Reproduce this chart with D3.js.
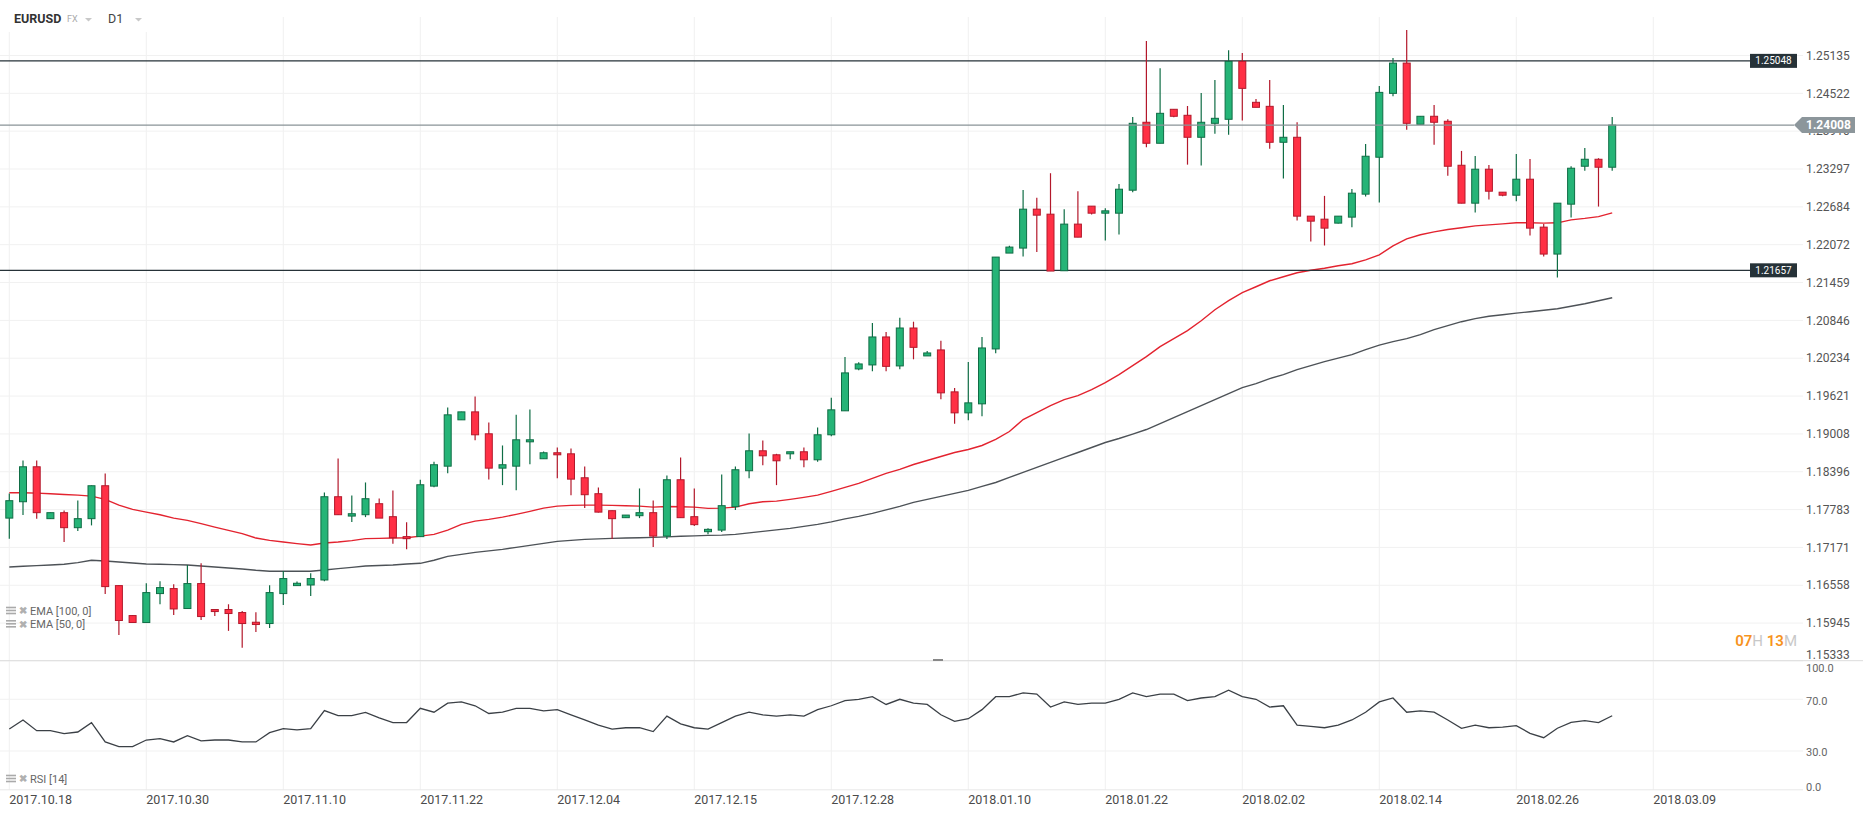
<!DOCTYPE html>
<html><head><meta charset="utf-8">
<script src="https://cdn.jsdelivr.net/npm/d3@7"></script>
<style>body{margin:0;background:#fff;} svg{display:block;font-family:Roboto, "Noto Sans", sans-serif;}</style>
</head><body><svg id="c" width="1866" height="817"></svg>
<script>
const dateLabels = ["2017.10.18","2017.10.30","2017.11.10","2017.11.22","2017.12.04","2017.12.15","2017.12.28","2018.01.10","2018.01.22","2018.02.02","2018.02.14","2018.02.26","2018.03.09"];
const openP = [1.17645,1.17910,1.18476,1.17636,1.17733,1.17490,1.17636,1.18169,1.16552,1.16067,
1.15954,1.16423,1.16504,1.16181,1.16585,1.16165,1.16165,1.16116,1.15959,1.15938,
1.16423,1.16552,1.16562,1.16643,1.17991,1.17678,1.17700,1.17878,1.17668,1.17345,
1.17345,1.18163,1.18486,1.19236,1.19365,1.19010,1.18454,1.18486,1.18880,1.18606,
1.18703,1.18686,1.18298,1.18040,1.17765,1.17652,1.17684,1.17733,1.17354,1.18266,
1.17668,1.17425,1.17451,1.17830,1.18412,1.18735,1.18670,1.18686,1.18719,1.18589,
1.18994,1.19382,1.20060,1.20125,1.20578,1.20109,1.20723,1.20271,1.20368,1.19689,
1.19349,1.19495,1.20384,1.21936,1.22017,1.22647,1.22566,1.21650,1.22405,1.22696,
1.22582,1.22582,1.22954,1.24054,1.23714,1.24264,1.24167,1.23811,1.24037,1.24102,
1.25040,1.24377,1.24312,1.23730,1.23811,1.22534,1.22485,1.22421,1.22518,1.22890,
1.23488,1.24522,1.25012,1.24021,1.24151,1.24070,1.23358,1.22744,1.23294,1.22922,
1.22873,1.23132,1.22356,1.21920,1.22728,1.23342,1.23455,1.23326];
const highP = [1.18045,1.18578,1.18578,1.17737,1.17770,1.17931,1.18174,1.18368,1.16557,1.16072,
1.16590,1.16622,1.16574,1.16885,1.16913,1.16169,1.16250,1.16142,1.16121,1.16557,
1.16789,1.16617,1.16751,1.18061,1.18610,1.18012,1.18222,1.17964,1.18093,1.17576,
1.18266,1.18557,1.19435,1.19365,1.19613,1.19192,1.18821,1.19317,1.19403,1.18724,
1.18788,1.18772,1.18481,1.18142,1.17770,1.17694,1.18125,1.17931,1.18336,1.18627,
1.18125,1.17479,1.18352,1.18481,1.19015,1.18901,1.18686,1.18719,1.18788,1.19112,
1.19592,1.20255,1.20167,1.20804,1.20659,1.20890,1.20825,1.20351,1.20518,1.19753,
1.20174,1.20578,1.21871,1.22054,1.22959,1.22830,1.23229,1.22647,1.22938,1.22696,
1.22663,1.23056,1.24139,1.25368,1.24927,1.24264,1.24317,1.24527,1.24737,1.25222,
1.25174,1.24430,1.24737,1.24333,1.24054,1.22534,1.22862,1.22534,1.22975,1.23703,
1.24640,1.25093,1.25546,1.24151,1.24333,1.24102,1.23590,1.23509,1.23363,1.22922,
1.23541,1.23460,1.22405,1.22744,1.23342,1.23638,1.23472,1.24139];
const lowP = [1.17312,1.17694,1.17636,1.17632,1.17257,1.17435,1.17527,1.16417,1.15754,1.15951,
1.15951,1.16250,1.16077,1.16177,1.15996,1.16061,1.15819,1.15544,1.15802,1.15867,
1.16239,1.16549,1.16384,1.16622,1.17697,1.17581,1.17661,1.17645,1.17231,1.17139,
1.17341,1.18146,1.18373,1.19236,1.18906,1.18271,1.18179,1.18098,1.18518,1.18606,
1.18292,1.18017,1.17807,1.17737,1.17306,1.17652,1.17645,1.17177,1.17306,1.17649,
1.17516,1.17382,1.17419,1.17775,1.18292,1.18502,1.18179,1.18599,1.18470,1.18557,
1.18971,1.19382,1.20038,1.20022,1.20022,1.20054,1.20216,1.20271,1.19569,1.19171,
1.19230,1.19294,1.20313,1.21936,1.21881,1.21952,1.21645,1.21650,1.22194,1.22560,
1.22139,1.22236,1.22922,1.23649,1.23714,1.24134,1.23368,1.23352,1.23869,1.23853,
1.24083,1.24296,1.23627,1.23142,1.22463,1.22123,1.22059,1.22414,1.22356,1.22851,
1.22754,1.24474,1.23934,1.24021,1.23691,1.23190,1.22741,1.22592,1.22802,1.22857,
1.22776,1.22220,1.21881,1.21541,1.22511,1.23271,1.22689,1.23271];
const closeP = [1.17927,1.18476,1.17733,1.17733,1.17490,1.17636,1.18169,1.16536,1.15987,1.15955,
1.16439,1.16520,1.16174,1.16585,1.16051,1.16132,1.16100,1.15938,1.15922,1.16439,
1.16666,1.16590,1.16666,1.17991,1.17700,1.17716,1.17959,1.17645,1.17328,1.17312,
1.18185,1.18509,1.19317,1.19365,1.18994,1.18454,1.18509,1.18913,1.18913,1.18703,
1.18670,1.18276,1.18024,1.17742,1.17636,1.17694,1.17733,1.17354,1.18266,1.17652,
1.17539,1.17463,1.17846,1.18428,1.18735,1.18654,1.18573,1.18719,1.18589,1.18994,
1.19398,1.19996,1.20141,1.20578,1.20102,1.20723,1.20410,1.20319,1.19673,1.19349,
1.19511,1.20400,1.21871,1.22033,1.22647,1.22550,1.21645,1.22405,1.22194,1.22582,
1.22620,1.22970,1.24037,1.23714,1.24199,1.24151,1.23811,1.24054,1.24118,1.25040,
1.24603,1.24296,1.23730,1.23811,1.22534,1.22453,1.22340,1.22534,1.22906,1.23504,
1.24538,1.25012,1.24037,1.24151,1.24054,1.23342,1.22744,1.23294,1.22938,1.22873,
1.23132,1.22340,1.21920,1.22744,1.23310,1.23455,1.23326,1.24008];
const ema50 = [1.18056,1.18056,1.18049,1.18040,1.18028,1.18017,1.18001,1.17948,1.17855,1.17786,
1.17742,1.17700,1.17645,1.17608,1.17555,1.17500,1.17446,1.17393,1.17322,1.17285,
1.17257,1.17231,1.17209,1.17241,1.17257,1.17280,1.17312,1.17317,1.17322,1.17328,
1.17354,1.17382,1.17451,1.17543,1.17597,1.17624,1.17661,1.17705,1.17754,1.17807,
1.17839,1.17851,1.17855,1.17855,1.17851,1.17846,1.17839,1.17823,1.17834,1.17830,
1.17823,1.17802,1.17807,1.17823,1.17878,1.17910,1.17920,1.17948,1.17980,1.18017,
1.18077,1.18142,1.18206,1.18287,1.18368,1.18433,1.18513,1.18578,1.18643,1.18707,
1.18756,1.18821,1.18918,1.19047,1.19241,1.19354,1.19467,1.19564,1.19629,1.19726,
1.19839,1.19968,1.20114,1.20259,1.20421,1.20550,1.20680,1.20841,1.21019,1.21165,
1.21294,1.21391,1.21488,1.21553,1.21617,1.21658,1.21690,1.21730,1.21763,1.21827,
1.21908,1.22054,1.22167,1.22232,1.22280,1.22317,1.22345,1.22377,1.22393,1.22409,
1.22426,1.22426,1.22421,1.22426,1.22474,1.22498,1.22527,1.22587];
const ema100 = [1.16853,1.16865,1.16876,1.16885,1.16897,1.16924,1.16962,1.16950,1.16934,1.16918,
1.16902,1.16897,1.16892,1.16885,1.16869,1.16853,1.16837,1.16821,1.16800,1.16784,
1.16784,1.16784,1.16784,1.16805,1.16827,1.16848,1.16869,1.16877,1.16885,1.16902,
1.16913,1.16962,1.17026,1.17058,1.17091,1.17115,1.17139,1.17172,1.17204,1.17236,
1.17269,1.17285,1.17301,1.17309,1.17317,1.17322,1.17328,1.17333,1.17341,1.17350,
1.17358,1.17366,1.17370,1.17382,1.17406,1.17430,1.17454,1.17479,1.17511,1.17543,
1.17584,1.17632,1.17673,1.17721,1.17778,1.17834,1.17899,1.17948,1.17996,1.18045,
1.18093,1.18158,1.18222,1.18303,1.18384,1.18465,1.18546,1.18627,1.18707,1.18788,
1.18869,1.18934,1.19006,1.19079,1.19176,1.19273,1.19370,1.19467,1.19564,1.19661,
1.19758,1.19823,1.19904,1.19968,1.20049,1.20114,1.20179,1.20235,1.20292,1.20373,
1.20445,1.20502,1.20550,1.20615,1.20696,1.20761,1.20825,1.20874,1.20914,1.20938,
1.20963,1.20987,1.21011,1.21035,1.21076,1.21116,1.21165,1.21213];
const rsi14 = [47.0,54.0,45.7,45.7,43.4,44.7,51.9,37.0,33.4,33.4,
38.5,39.6,37.0,41.8,37.9,38.5,38.5,37.0,37.0,44.2,
47.3,46.3,47.3,61.3,57.4,57.4,59.8,55.6,52.0,52.0,
63,60,67,68,65,59,60,63,63,61,
62,58,54,50,47,48,48,45,57,51,
48,47,52,57,60,58,57,58,57,62,
65,69,70,72,66,70,67,66,58,53,
55,62,72,72,75,74,64,68,66,67,
67,70,75,72,74,74,69,71,72,77,
72,70,64,65,50,49,48,50,54,60,
68,71,60,61,60,54,47.5,50,48,48.5,
49.6,43.7,40.3,47.6,52.2,53.5,51.9,57.3];
const priceTicks = [1.25135,1.24522,1.23910,1.23297,1.22684,1.22072,1.21459,1.20846,1.20234,1.19621,1.19008,1.18396,1.17783,1.17171,1.16558,1.15945,1.15333];
const rsiTicks = [100,70,30,0];
const levels = [1.25048,1.21657];
const lastPrice = 1.24008;

const svg = d3.select('#c');
const x = d3.scaleLinear().domain([0,120]).range([9.3,1653.3]);
const y = d3.scaleLinear().domain([1.15333,1.25135]).range([660.9,55.5]);
const yr = d3.scaleLinear().domain([0,100]).range([789.8,660.5]);
const gridRight = 1803;
const gridC = '#f1f1f1';

dateLabels.forEach((d,k)=>{
  const xx = x(k*10);
  svg.append('line').attr('x1',xx).attr('x2',xx).attr('y1', xx<150?32:17).attr('y2',790)
    .attr('stroke',gridC).attr('stroke-width',1);
  svg.append('text').attr('x',xx).attr('y',804).attr('font-size',12.5).attr('fill','#4a4a4a').text(d);
});
priceTicks.forEach(t=>{
  svg.append('line').attr('x1',0).attr('x2',gridRight).attr('y1',y(t)).attr('y2',y(t)).attr('stroke',gridC);
  svg.append('text').attr('x',1806).attr('y',Math.min(y(t),655)).attr('dy','0.35em')
    .attr('font-size',12).attr('fill','#555').text(t.toFixed(5));
});
rsiTicks.forEach(t=>{
  if(t!==100) svg.append('line').attr('x1',0).attr('x2',gridRight).attr('y1',yr(t)).attr('y2',yr(t))
    .attr('stroke', t===0?'#e8e8e8':gridC);
  const ly = Math.max(668, Math.min(787, yr(t)+1.5));
  svg.append('text').attr('x',1806).attr('y',ly).attr('dy','0.35em').attr('font-size',11).attr('fill','#666').text(t.toFixed(1));
});
svg.append('line').attr('x1',0).attr('x2',1863).attr('y1',660.7).attr('y2',660.7).attr('stroke','#dcdcdc');
svg.append('rect').attr('x',933).attr('y',659).attr('width',10).attr('height',2).attr('fill','#888');

const lineP = d3.line().x((d,i)=>x(i)).y(d=>y(d));
svg.append('path').datum(ema100).attr('d',lineP).attr('fill','none').attr('stroke','#4d5257').attr('stroke-width',1.4);
svg.append('path').datum(ema50).attr('d',lineP).attr('fill','none').attr('stroke','#e3232f').attr('stroke-width',1.4);

levels.forEach(l=>{
  svg.append('line').attr('x1',0).attr('x2',1750).attr('y1',y(l)).attr('y2',y(l)).attr('stroke','#263238').attr('stroke-width',1.2);
  svg.append('rect').attr('x',1750).attr('y',y(l)-7).attr('width',47).attr('height',14).attr('fill','#263238');
  svg.append('text').attr('x',1773.5).attr('y',y(l)).attr('dy','0.35em').attr('text-anchor','middle')
    .attr('font-size',10).attr('fill','#fff').text(l.toFixed(5));
});

const gC = svg.append('g');
closeP.forEach((c,i)=>{
  const o = openP[i], up = c>=o;
  const fill = up ? '#25b477' : '#ff3045';
  const edge = up ? '#0f6d45' : '#b3182b';
  const cx = x(i);
  gC.append('line').attr('x1',cx).attr('x2',cx).attr('y1',y(highP[i])).attr('y2',y(lowP[i]))
    .attr('stroke',edge).attr('stroke-width',1.2);
  const top = y(Math.max(o,c)), h = Math.max(1, Math.abs(y(o)-y(c)));
  gC.append('rect').attr('x',cx-3.5).attr('y',top).attr('width',7).attr('height',h)
    .attr('fill',fill).attr('stroke',edge).attr('stroke-width',1);
});

const yl = y(lastPrice);
svg.append('line').attr('x1',0).attr('x2',1794).attr('y1',yl).attr('y2',yl).attr('stroke','#8a9397').attr('stroke-width',1.2);
svg.append('path').attr('d',`M1794,${yl} L1802,${yl-8} L1855,${yl-8} L1855,${yl+8} L1802,${yl+8} Z`).attr('fill','#8c969b');
svg.append('text').attr('x',1806).attr('y',yl).attr('dy','0.35em').attr('font-size',12).attr('font-weight',700)
  .attr('fill','#fff').text(lastPrice.toFixed(5));

const lineR = d3.line().x((d,i)=>x(i)).y(d=>yr(d));
svg.append('path').datum(rsi14).attr('d',lineR).attr('fill','none').attr('stroke','#3b4046').attr('stroke-width',1.3);

function legend(ly, label){
  const g = svg.append('g');
  for(let k=0;k<3;k++) g.append('rect').attr('x',6).attr('y',ly-4+k*3).attr('width',10).attr('height',1.6).attr('fill','#aaa');
  g.append('text').attr('x',19).attr('y',ly).attr('dy','0.35em').attr('font-size',10).attr('font-weight',700).attr('fill','#b0b0b0').text('✖');
  g.append('text').attr('x',30).attr('y',ly).attr('dy','0.35em').attr('font-size',11).attr('fill','#666').text(label);
}
legend(610.7,'EMA  [100, 0]');
legend(624,'EMA  [50, 0]');
legend(778.7,'RSI  [14]');

svg.append('text').attr('x',14).attr('y',23).attr('font-size',12.5).attr('font-weight',700).attr('fill','#333').text('EURUSD');
svg.append('text').attr('x',67).attr('y',22).attr('font-size',9).attr('fill','#aaa').text('FX');
svg.append('text').attr('x',108).attr('y',23).attr('font-size',12.5).attr('fill','#444').text('D1');
[85,135].forEach(tx=>{
  svg.append('path').attr('d',`M${tx},18 L${tx+7},18 L${tx+3.5},21.5 Z`).attr('fill','#c8c8c8');
});

const cd = svg.append('text').attr('x',1797).attr('y',646).attr('text-anchor','end').attr('font-size',15);
cd.append('tspan').attr('fill','#f7931e').attr('font-weight',600).text('07');
cd.append('tspan').attr('fill','#c8c8c8').text('H ');
cd.append('tspan').attr('fill','#f7931e').attr('font-weight',600).text('13');
cd.append('tspan').attr('fill','#c8c8c8').text('M');
</script></body></html>
